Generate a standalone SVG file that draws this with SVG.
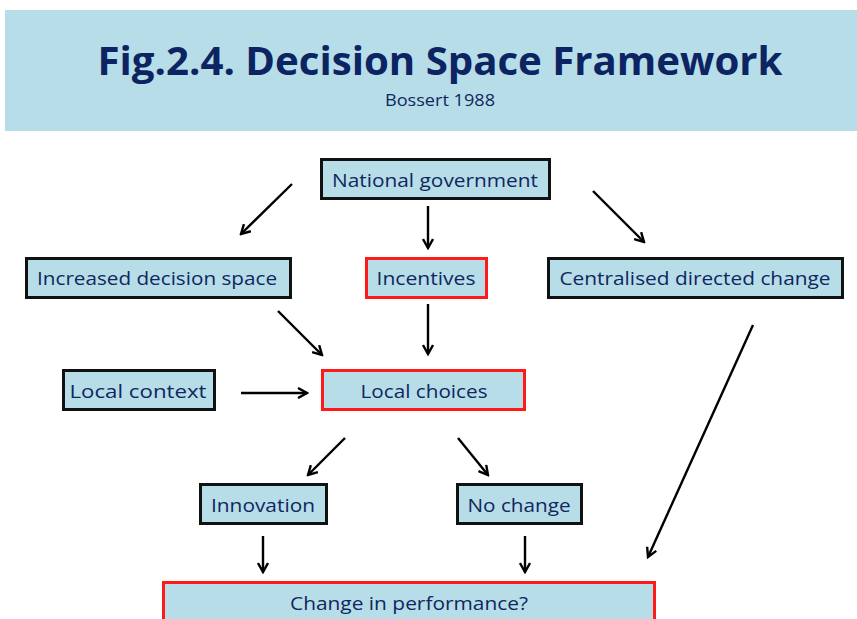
<svg xmlns="http://www.w3.org/2000/svg" width="857" height="619" viewBox="0 0 857 619">
<style>
.box{fill:#b7dde8;stroke:#111;stroke-width:3}
.red{stroke:#ff1a1a}
.t{font-family:"Open Sans","Liberation Sans",Arial,sans-serif;font-size:19px;fill:#10275e;text-anchor:middle}
.c{stroke:#000;stroke-width:2.4;fill:none;marker-end:url(#ah)}
</style>
<defs>
<marker id="ah" markerWidth="12" markerHeight="12" refX="10" refY="6" orient="auto" markerUnits="userSpaceOnUse">
<path d="M1,1 L10,6 L1,11" fill="none" stroke="#000" stroke-width="2.4"/>
</marker>
</defs>
<rect width="857" height="619" fill="#fff"/>
<g id="header">
<rect x="5" y="10" width="852" height="121" fill="#b7dde8"/>
<text x="440" y="75" font-family="'Open Sans','Liberation Sans',sans-serif" font-weight="bold" font-size="40" fill="#0c2461" text-anchor="middle" textLength="685" lengthAdjust="spacingAndGlyphs">Fig.2.4. Decision Space Framework</text>
<text x="440" y="106" font-family="'Open Sans','Liberation Sans',Arial,sans-serif" font-size="16" fill="#10275e" text-anchor="middle" textLength="110" lengthAdjust="spacingAndGlyphs">Bossert 1988</text>
</g>
<g id="connectors">
<line class="c" x1="292" y1="184" x2="241" y2="234"/>
<line class="c" x1="428" y1="206" x2="428" y2="248"/>
<line class="c" x1="593" y1="191" x2="644" y2="242"/>
<line class="c" x1="278" y1="311" x2="322" y2="355"/>
<line class="c" x1="428" y1="304" x2="428" y2="354"/>
<line class="c" x1="241" y1="393" x2="307" y2="393"/>
<line class="c" x1="345" y1="438" x2="308" y2="475"/>
<line class="c" x1="458" y1="438" x2="488" y2="475"/>
<line class="c" x1="753" y1="325" x2="648" y2="557"/>
<line class="c" x1="263" y1="536" x2="263" y2="572"/>
<line class="c" x1="525" y1="536" x2="525" y2="572"/>
</g>
<g id="national">
<rect class="box" x="321.5" y="159.5" width="228" height="39"/>
<text class="t" x="435" y="187" textLength="206" lengthAdjust="spacingAndGlyphs">National government</text>
</g>
<g id="increased">
<rect class="box" x="26.5" y="258.5" width="264" height="39"/>
<text class="t" x="157" y="285" textLength="240" lengthAdjust="spacingAndGlyphs">Increased decision space</text>
</g>
<g id="incentives">
<rect class="box red" x="366.5" y="258.5" width="120" height="39"/>
<text class="t" x="426" y="285" textLength="99" lengthAdjust="spacingAndGlyphs">Incentives</text>
</g>
<g id="centralised">
<rect class="box" x="548.5" y="258.5" width="294" height="39"/>
<text class="t" x="695" y="285" textLength="271" lengthAdjust="spacingAndGlyphs">Centralised directed change</text>
</g>
<g id="localcontext">
<rect class="box" x="63.5" y="370.5" width="151" height="39"/>
<text class="t" x="138" y="398" textLength="137" lengthAdjust="spacingAndGlyphs">Local context</text>
</g>
<g id="localchoices">
<rect class="box red" x="322.5" y="370.5" width="202" height="39"/>
<text class="t" x="424" y="398" textLength="127" lengthAdjust="spacingAndGlyphs">Local choices</text>
</g>
<g id="innovation">
<rect class="box" x="200.5" y="484.5" width="126" height="39"/>
<text class="t" x="263" y="512" textLength="104" lengthAdjust="spacingAndGlyphs">Innovation</text>
</g>
<g id="nochange">
<rect class="box" x="457.5" y="484.5" width="124" height="39"/>
<text class="t" x="519" y="512" textLength="103" lengthAdjust="spacingAndGlyphs">No change</text>
</g>
<g id="performance">
<rect class="box red" x="163.5" y="582.5" width="491" height="45"/>
<text class="t" x="409" y="610" textLength="238" lengthAdjust="spacingAndGlyphs">Change in performance?</text>
</g>
</svg>
